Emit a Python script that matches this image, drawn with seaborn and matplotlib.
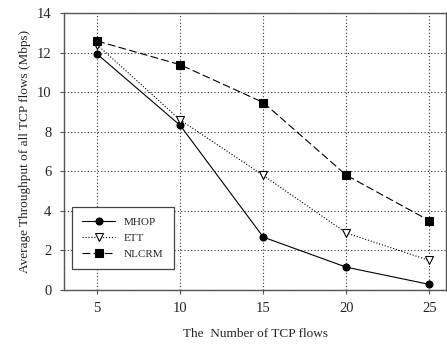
import matplotlib
matplotlib.use("Agg")
import matplotlib.pyplot as plt
import seaborn as sns
import pandas as pd

flows = [5, 10, 15, 20, 25]
mhop = [11.93, 8.32, 2.67, 1.15, 0.28]
ett = [12.4, 8.6, 5.79, 2.88, 1.49]
nlcrm = [12.59, 11.39, 9.48, 5.8, 3.5]
series_names = ["MHOP", "ETT", "NLCRM"]
yticks = [0, 2, 4, 6, 8, 10, 12, 14]

sns.set_theme(style="ticks")
plt.rcParams['font.family'] = ['Liberation Serif', 'DejaVu Serif']

fig = plt.figure(figsize=(4.47, 3.46), dpi=100)
ax = fig.add_axes([0.143, 0.162, 0.855, 0.80])

styles = {
    "MHOP": dict(marker="o", linestyle="-", markerfacecolor="black", markersize=5),
    "ETT": dict(marker="v", linestyle=":", markerfacecolor="white", markersize=6),
    "NLCRM": dict(marker="s", linestyle=(0, (7, 3)), markerfacecolor="black", markersize=5.5),
}
for name, vals in zip(series_names, [mhop, ett, nlcrm]):
    df = pd.DataFrame({"x": flows, "y": vals})
    sns.lineplot(data=df, x="x", y="y", ax=ax, color="black", linewidth=0.8,
                 markeredgecolor="black", markeredgewidth=0.8, label=name,
                 **styles[name])

ax.set_xlim(3, 26)
ax.set_ylim(0, 14)
ax.set_xticks(flows)
ax.set_yticks(yticks)
ax.grid(True, linestyle=(0, (1, 2)), color="#333333", linewidth=0.8)
ax.tick_params(labelsize=10.5, length=3, width=0.8, color="#555555", pad=6)
for s in ax.spines.values():
    s.set_color("#555555")
    s.set_linewidth(1.0)
ax.set_xlabel("The  Number of TCP flows", fontsize=9.5, labelpad=9)
ax.set_ylabel("Average Throughput of all TCP flows (Mbps)", fontsize=9.5, labelpad=4)

leg = ax.legend(loc="lower left", bbox_to_anchor=(0.021, 0.076), borderaxespad=0,
                fontsize=8, frameon=True, fancybox=False, edgecolor="#444444",
                handlelength=3.0, borderpad=0.9, labelspacing=0.55)
leg.get_frame().set_linewidth(0.9)
leg.get_frame().set_alpha(1)

fig.savefig("out.png", dpi=100)
